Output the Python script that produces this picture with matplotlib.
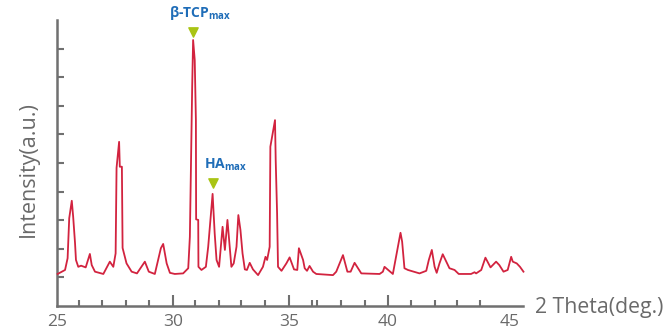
import matplotlib
matplotlib.use("Agg")
import matplotlib.pyplot as plt

# ---- data ----
two_theta = [25.04, 25.36, 25.47, 25.54, 25.65, 25.71, 25.79, 25.83, 25.93, 26.05,
             26.25, 26.43, 26.51, 26.65, 27.01, 27.29, 27.44, 27.54, 27.58, 27.69,
             27.72, 27.81, 27.84, 28.01, 28.23, 28.46, 28.80, 28.97, 29.23, 29.49,
             29.59, 29.74, 29.88, 30.09, 30.45, 30.67, 30.74, 30.84, 30.88, 30.95,
             31.00, 31.01, 31.10, 31.11, 31.24, 31.43, 31.53, 31.72, 31.81, 31.89,
             32.00, 32.15, 32.25, 32.36, 32.46, 32.53, 32.63, 32.75, 32.83, 32.92,
             33.01, 33.11, 33.20, 33.32, 33.46, 33.68, 33.89, 34.00, 34.07, 34.18,
             34.21, 34.41, 34.44, 34.50, 34.54, 34.69, 34.90, 35.04, 35.23, 35.37,
             35.44, 35.62, 35.69, 35.79, 35.90, 36.05, 36.19, 36.91, 37.05, 37.34,
             37.53, 37.67, 37.84, 38.13, 38.92, 39.06, 39.13, 39.49, 39.64, 39.82,
             39.89, 39.99, 40.14, 40.64, 40.93, 41.04, 41.17, 41.29, 41.38, 41.50,
             41.64, 41.93, 42.15, 42.33, 42.86, 43.01, 43.08, 43.30, 43.48, 43.70,
             43.94, 44.08, 44.26, 44.44, 44.59, 44.66, 44.83, 44.97, 45.12]
intensity = [1.12, 1.26, 1.67, 3.07, 3.68, 3.12, 2.20, 1.61, 1.37, 1.41,
             1.35, 1.82, 1.43, 1.20, 1.12, 1.55, 1.37, 1.84, 4.83, 5.74,
             4.87, 4.87, 2.03, 1.49, 1.20, 1.14, 1.55, 1.20, 1.12, 2.02,
             2.17, 1.49, 1.16, 1.12, 1.14, 1.32, 2.42, 7.67, 9.30, 8.60,
             6.50, 3.03, 3.01, 1.37, 1.26, 1.37, 2.07, 3.92, 2.54, 1.61,
             1.37, 2.77, 1.96, 3.01, 2.07, 1.37, 1.49, 2.07, 3.18, 2.66,
             1.84, 1.28, 1.26, 1.51, 1.28, 1.08, 1.37, 1.72, 1.61, 2.07,
             5.57, 6.50, 5.10, 3.24, 1.37, 1.23, 1.49, 1.70, 1.28, 1.26,
             2.02, 1.61, 1.32, 1.23, 1.40, 1.20, 1.12, 1.08, 1.20, 1.78,
             1.20, 1.20, 1.51, 1.14, 1.12, 1.20, 1.37, 1.12, 1.78, 2.56,
             2.25, 1.32, 1.26, 1.14, 1.23, 1.61, 1.96, 1.37, 1.16, 1.49,
             1.81, 1.32, 1.26, 1.12, 1.12, 1.18, 1.14, 1.26, 1.69, 1.35,
             1.55, 1.43, 1.20, 1.26, 1.72, 1.55, 1.49, 1.37, 1.20]

marker_x = [30.88, 31.72]
marker_y = [9.59, 4.31]
marker_labels = ["β-TCP", "HA"]

major_tick_pos = [25, 30, 35, 39.27, 44.51]
major_tick_labels = ["25", "30", "35", "40", "45"]
minor_tick_pos = [25.96, 26.94, 27.98, 28.97, 30.98, 31.99, 32.96, 33.99,
                  36.02, 36.22, 37.24, 38.28, 40.26, 41.29, 42.26, 43.26]
y_ticks = [1, 2, 3, 4, 5, 6, 7, 8, 9]

# ---- style ----
plt.rcParams['font.family'] = ['Open Sans', 'DejaVu Sans']
plt.rcParams['mathtext.fontset'] = 'custom'
plt.rcParams['mathtext.rm'] = 'Open Sans'
GRAY = '#707070'
TXT = '#6a6a6a'
RED = '#d2233f'
BLUE = '#1f6db8'
GREEN = '#a9c414'

fig = plt.figure(figsize=(6.65, 3.36), dpi=100)
ax = fig.add_axes([56.7/665, 1-306/336, (523-56.7)/665, (306-20)/336])

ax.plot(two_theta, intensity, color=RED, lw=1.3, clip_on=False, zorder=3)
ax.scatter(marker_x, marker_y, marker='v', s=45, color=GREEN, zorder=4, clip_on=False)

ax.text(marker_x[0] + 0.3, marker_y[0] + 0.35, marker_labels[0] + r"$_{\mathregular{max}}$",
        color=BLUE, fontsize=10, fontweight='bold', ha='center', va='bottom')
ax.text(marker_x[1] + 0.58, marker_y[1] + 0.35, marker_labels[1] + r"$_{\mathregular{max}}$",
        color=BLUE, fontsize=10, fontweight='bold', ha='center', va='bottom')

ax.set_xlim(25, 45.1)
ax.set_ylim(0, 10)

for s in ['top', 'right']:
    ax.spines[s].set_visible(False)
for s in ['left', 'bottom']:
    ax.spines[s].set_color(GRAY)
    ax.spines[s].set_linewidth(1.8)

ax.set_xticks(major_tick_pos)
ax.set_xticklabels(major_tick_labels)
ax.set_xticks(minor_tick_pos, minor=True)
ax.tick_params(axis='x', which='major', direction='in', length=8, width=1.5,
               color=GRAY, labelcolor=TXT, labelsize=12.5, pad=6)
ax.tick_params(axis='x', which='minor', direction='in', length=4.5, width=1.5, color=GRAY)
ax.xaxis.get_major_ticks()[-1].tick1line.set_visible(False)
ax.xaxis.get_major_ticks()[0].tick1line.set_visible(False)

ax.set_yticks(y_ticks)
ax.set_yticklabels([])
ax.tick_params(axis='y', which='major', direction='in', length=5, width=1.5, color=GRAY)

fig.text(28/665, 1-169/336, "Intensity(a.u.)", rotation=90, color=TXT,
         fontsize=15.5, ha='center', va='center')
fig.text(535/665, 1-307/336, "2 Theta(deg.)", color=TXT, fontsize=15.3,
         ha='left', va='center')

fig.savefig("out.png", dpi=100)
